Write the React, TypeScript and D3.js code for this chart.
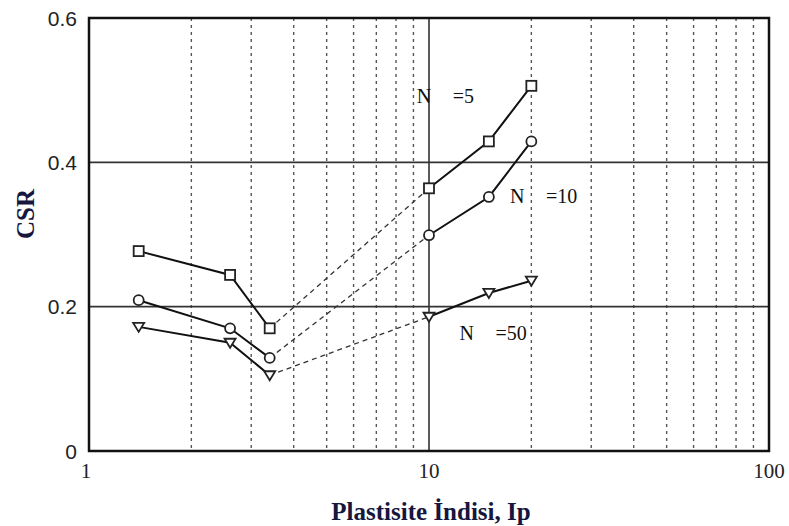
import React from "react";
import * as d3 from "d3";

const ipValues = [1.4, 2.6, 3.4, 10, 15, 20];
const csrN5 = [0.277, 0.244, 0.170, 0.364, 0.429, 0.506];
const csrN10 = [0.209, 0.170, 0.129, 0.299, 0.352, 0.429];
const csrN50 = [0.172, 0.150, 0.105, 0.186, 0.219, 0.236];
const seriesLabels = ["N", "N", "N"];
const seriesEq = ["=5", "=10", "=50"];
const labelIp = [9.2, 17.3, 12.3];
const labelCsr = [0.482, 0.344, 0.154];
const yTicks = [0, 0.2, 0.4, 0.6];
const yTickLabels = ["0", "0.2", "0.4", "0.6"];
const xTicks = [1, 10, 100];
const minorX = [2, 3, 4, 5, 6, 7, 8, 9, 20, 30, 40, 50, 60, 70, 80, 90];

export default function App() {
  const W = 789, H = 526;
  const x = d3.scaleLog().domain([1, 100]).range([89, 769]);
  const y = d3.scaleLinear().domain([0, 0.6]).range([451, 18]);
  const seriesList = [csrN5, csrN10, csrN50];
  const mkLine = (idx: number[], s: number[]) =>
    d3.line<number>().x((i) => x(ipValues[i])).y((i) => y(s[i]))(idx) || "";

  const marker = (k: number, cx: number, cy: number, key: string) => {
    if (k === 0)
      return <rect key={key} x={cx - 5} y={cy - 5} width={10} height={10} fill="white" stroke="#222" strokeWidth={1.8} />;
    if (k === 1)
      return <circle key={key} cx={cx} cy={cy} r={5} fill="white" stroke="#222" strokeWidth={1.8} />;
    return (
      <path key={key} d={`M${cx - 5.5},${cy - 4} L${cx + 5.5},${cy - 4} L${cx},${cy + 5} Z`} fill="white" stroke="#222" strokeWidth={1.8} />
    );
  };

  return (
    <svg width={W} height={H} style={{ position: "absolute", left: 0, top: 0, background: "white" }}>
      <rect width={W} height={H} fill="white" />
      {minorX.map((v) => (
        <line key={"g" + v} x1={x(v)} x2={x(v)} y1={y(0.6)} y2={y(0)} stroke="#555" strokeWidth={1.4} strokeDasharray="3,4" />
      ))}
      <line x1={x(10)} x2={x(10)} y1={y(0.6)} y2={y(0)} stroke="#333" strokeWidth={1.6} />
      {[0.2, 0.4].map((v) => (
        <line key={"h" + v} x1={x(1)} x2={x(100)} y1={y(v)} y2={y(v)} stroke="#333" strokeWidth={1.6} />
      ))}
      <rect x={x(1)} y={y(0.6)} width={x(100) - x(1)} height={y(0) - y(0.6)} fill="none" stroke="#111" strokeWidth={2.5} />

      {seriesList.map((s, k) => (
        <g key={"s" + k}>
          <path d={mkLine([0, 1, 2], s)} fill="none" stroke="#111" strokeWidth={2} />
          <path d={mkLine([2, 3], s)} fill="none" stroke="#333" strokeWidth={1.3} strokeDasharray="5,4" />
          <path d={mkLine([3, 4, 5], s)} fill="none" stroke="#111" strokeWidth={2} />
          {s.map((v, i) => marker(k, x(ipValues[i]), y(v), `m${k}-${i}`))}
        </g>
      ))}

      {seriesLabels.map((lab, k) => (
        <g key={"l" + k}>
          <text x={x(labelIp[k])} y={y(labelCsr[k])} fontFamily="Liberation Serif, serif" fontSize={20} fill="#111">{lab}</text>
          <text x={x(labelIp[k]) + 36} y={y(labelCsr[k])} fontFamily="Liberation Serif, serif" fontSize={20} fill="#111">{seriesEq[k]}</text>
        </g>
      ))}

      {yTicks.map((v, i) => (
        <text key={"yt" + v} x={77} y={y(v) + 7.5} textAnchor="end" fontFamily="Liberation Sans, Arial, sans-serif" fontSize={21} fill="#222">
          {yTickLabels[i]}
        </text>
      ))}
      {xTicks.map((v) => (
        <text key={"xt" + v} x={x(v) - (v === 1 ? 3 : 0)} y={478} textAnchor="middle" fontFamily="Liberation Serif, serif" fontSize={21} fill="#222">
          {v}
        </text>
      ))}
      <text x={431} y={520} textAnchor="middle" fontFamily="Liberation Serif, serif" fontWeight="bold" fontSize={25} fill="#16163e">
        Plastisite İndisi, Ip
      </text>
      <text transform="translate(34,214) rotate(-90)" textAnchor="middle" fontFamily="Liberation Serif, serif" fontWeight="bold" fontSize={25} fill="#16163e">
        CSR
      </text>
    </svg>
  );
}
